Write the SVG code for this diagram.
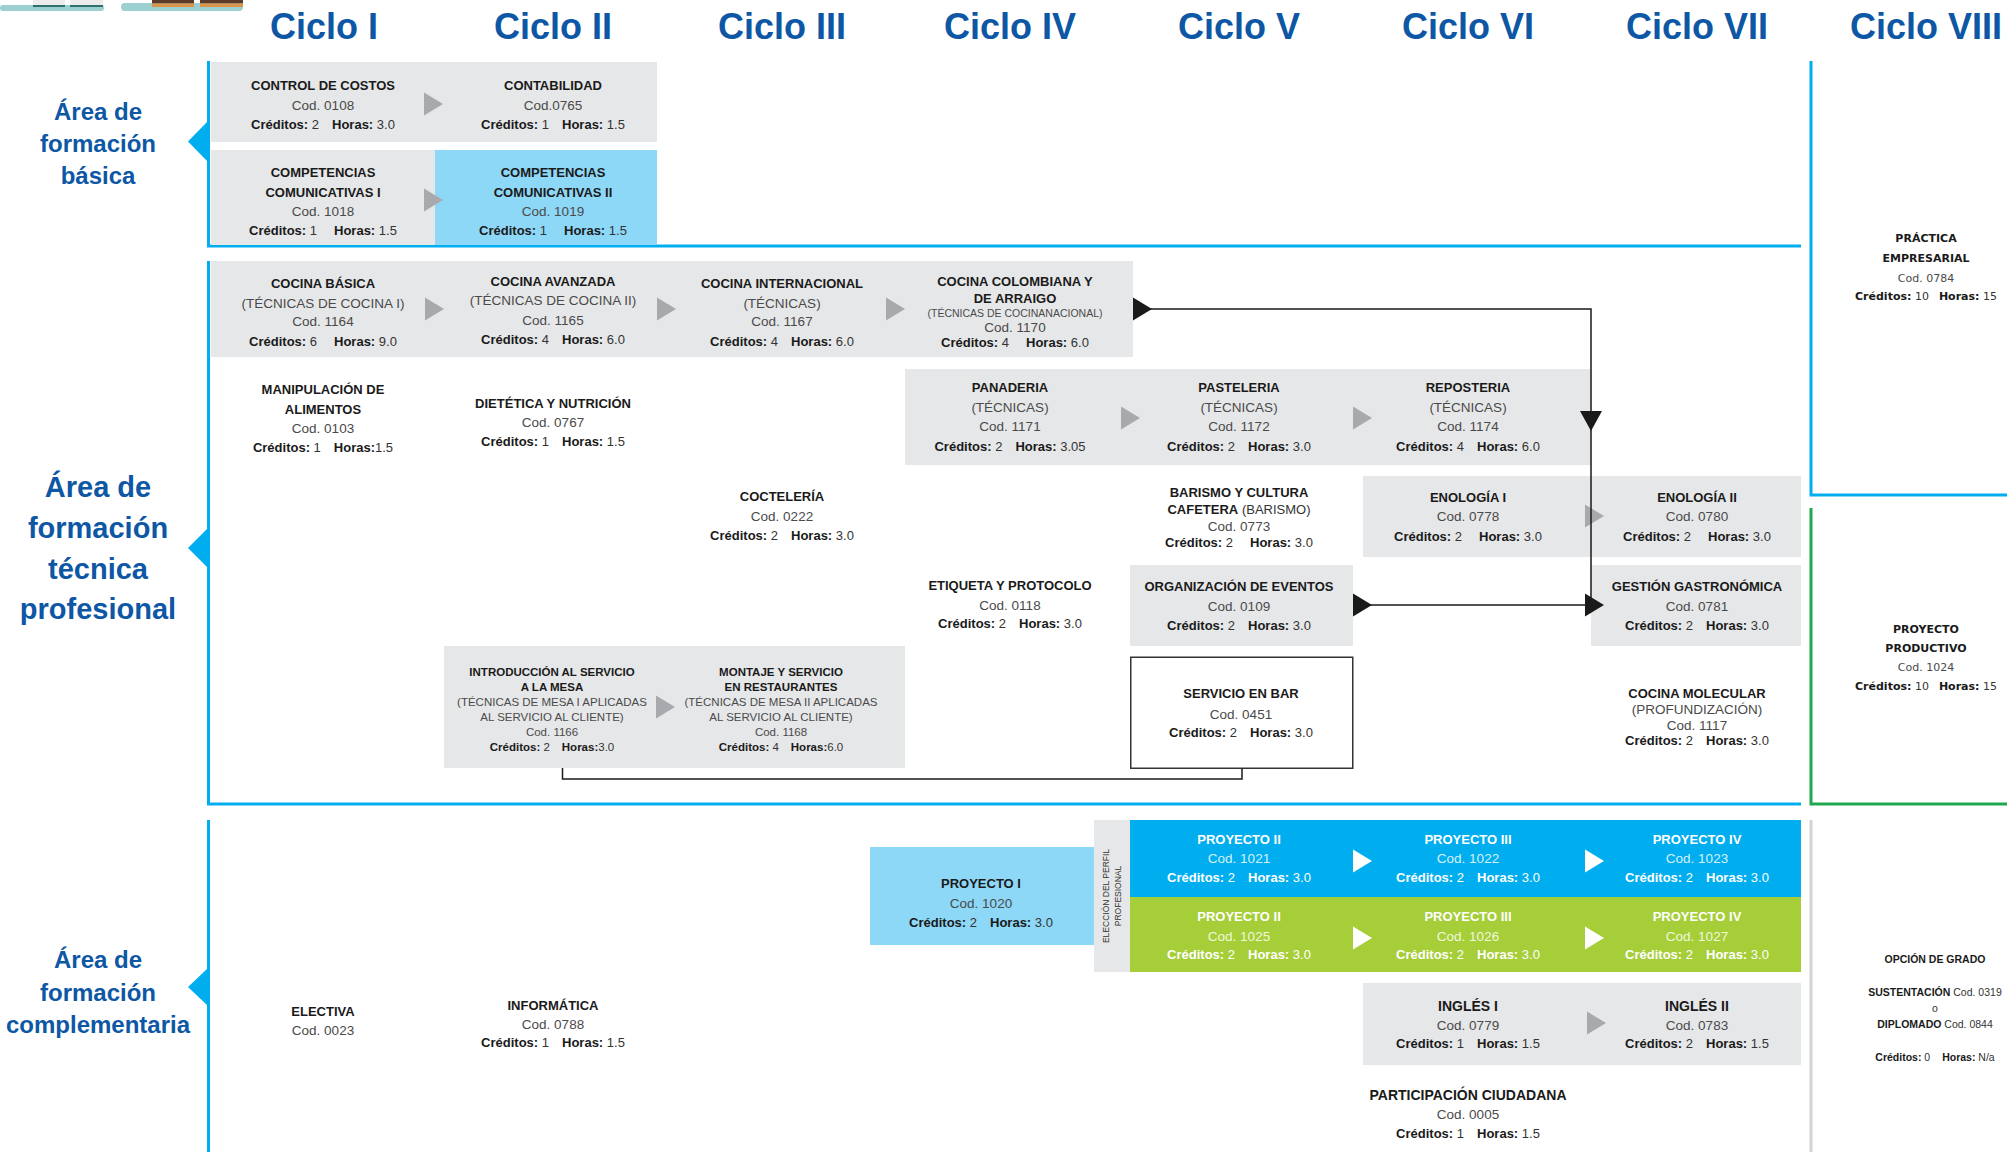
<svg xmlns="http://www.w3.org/2000/svg" width="2007" height="1152" viewBox="0 0 2007 1152">
<style>
text{font-family:"Liberation Sans",Arial,sans-serif;text-anchor:middle}
.t{font-size:13px;font-weight:bold;fill:#1a1a1a}
.c{font-size:13.5px;fill:#4a4a4a}
.k{font-size:13px;fill:#333}
.b{font-weight:bold;fill:#1a1a1a}
.s{font-size:10.5px}
.m{font-size:11.5px}
.w .t,.w .k,.w .b{fill:#fff}
.w .c{fill:#d4f1fd}
.w.g .c{fill:#f0f8dc}
.hdr{font-size:36px;font-weight:bold;fill:#0d57a5}
.area{font-size:24px;font-weight:bold;fill:#0d57a5}
.area.big{font-size:29px}
.v{font-family:"DejaVu Sans",Verdana,sans-serif;font-size:11px}
.grey{fill:#e6e7e8}
.lb{fill:#8dd7f7}
.cy{fill:#00aeef}
.gr{fill:#a6ce39}
.ga{fill:#a7a9ac}
.wa{fill:#fff}
.ba{fill:#1a1a1a}
.ln{fill:none;stroke:#00aeef;stroke-width:3}
.cl{fill:none;stroke:#1a1a1a;stroke-width:1.5}
</style>
<defs>
<path id="ar" d="M0,-11.5 L19,0 L0,11.5Z"/>
</defs>

<g id="decor">
<rect x="0" y="5" width="104" height="6" rx="3" fill="#9ccfcf"/>
<rect x="33" y="0" width="32" height="5" fill="#ececec"/>
<rect x="33" y="5" width="32" height="2" fill="#2e6f70"/>
<rect x="70" y="0" width="33" height="5" fill="#ececec"/>
<rect x="70" y="5" width="33" height="2" fill="#2e6f70"/>
<rect x="121" y="3" width="122" height="8" rx="4" fill="#9ccfcf"/>
<rect x="152" y="0" width="42" height="3.5" fill="#5a3a28"/>
<rect x="152" y="3.5" width="42" height="3.5" fill="#d9934a"/>
<rect x="200" y="0" width="43" height="3.5" fill="#5a3a28"/>
<rect x="200" y="3.5" width="43" height="3.5" fill="#d9934a"/>
</g>

<g id="headers">
<text class="hdr" x="324" y="39">Ciclo I</text>
<text class="hdr" x="553" y="39">Ciclo II</text>
<text class="hdr" x="782" y="39">Ciclo III</text>
<text class="hdr" x="1010" y="39">Ciclo IV</text>
<text class="hdr" x="1239" y="39">Ciclo V</text>
<text class="hdr" x="1468" y="39">Ciclo VI</text>
<text class="hdr" x="1697" y="39">Ciclo VII</text>
<text class="hdr" x="1926" y="39">Ciclo VIII</text>
</g>

<g id="areas">
<path class="ln" d="M208.5,61 V246 H1801"/>
<polygon class="cy" points="188,141.5 208,121 208,162"/>
<text class="area" x="98" y="120">Área de</text>
<text class="area" x="98" y="152">formación</text>
<text class="area" x="98" y="184">básica</text>

<path class="ln" d="M208.5,261 V804 H1801"/>
<polygon class="cy" points="188,548 208,528 208,568"/>
<text class="area big" x="98" y="497">Área de</text>
<text class="area big" x="98" y="538">formación</text>
<text class="area big" x="98" y="579">técnica</text>
<text class="area big" x="98" y="619">profesional</text>

<path class="ln" d="M208.5,820 V1152"/>
<polygon class="cy" points="188,987 208,968 208,1006"/>
<text class="area" x="98" y="968">Área de</text>
<text class="area" x="98" y="1001">formación</text>
<text class="area" x="98" y="1033">complementaria</text>

<path class="ln" d="M1811,61 V495 H2007"/>
<path fill="none" stroke="#1fa84f" stroke-width="3" d="M1811,508 V804 H2007"/>
<path fill="none" stroke="#d3d3d3" stroke-width="3" d="M1811,820 V1152"/>
</g>

<g id="bands">
<rect class="grey" x="211" y="62" width="446" height="80"/>
<rect class="grey" x="211" y="150" width="224" height="95"/>
<rect class="lb" x="435" y="150" width="222" height="95"/>
<rect class="grey" x="211" y="261" width="922" height="96"/>
<rect class="grey" x="905" y="369" width="686" height="96"/>
<rect class="grey" x="1363" y="476" width="438" height="81"/>
<rect class="grey" x="1130" y="565" width="223" height="81"/>
<rect class="grey" x="1591" y="565" width="210" height="81"/>
<rect class="grey" x="444" y="646" width="461" height="122"/>
<rect x="1130.75" y="657.25" width="222" height="111" fill="#fff" stroke="#333" stroke-width="1.5"/>
<rect class="lb" x="870" y="847" width="224" height="98"/>
<rect class="grey" x="1094" y="820" width="36" height="152"/>
<rect class="cy" x="1130" y="820" width="671" height="77"/>
<rect class="gr" x="1130" y="897" width="671" height="75"/>
<rect class="grey" x="1363" y="983" width="438" height="82"/>
</g>

<g id="connectors">
<use href="#ar" class="ga" x="424" y="104"/>
<use href="#ar" class="ga" x="424" y="200"/>
<use href="#ar" class="ga" x="425" y="309"/>
<use href="#ar" class="ga" x="657" y="309"/>
<use href="#ar" class="ga" x="886" y="309"/>
<use href="#ar" class="ga" x="1121" y="418"/>
<use href="#ar" class="ga" x="1353" y="418"/>
<use href="#ar" class="ga" x="1585" y="516"/>
<use href="#ar" class="ga" x="656" y="707"/>
<use href="#ar" class="ga" x="1587" y="1023"/>
<use href="#ar" class="wa" x="1353" y="861"/>
<use href="#ar" class="wa" x="1585" y="861"/>
<use href="#ar" class="wa" x="1353" y="938"/>
<use href="#ar" class="wa" x="1585" y="938"/>
<path class="cl" d="M1150,309 H1591 V605"/>
<path class="cl" d="M1370,605 H1586"/>
<use href="#ar" class="ba" x="1133" y="309"/>
<use href="#ar" class="ba" x="1353" y="605"/>
<use href="#ar" class="ba" x="1585" y="605"/>
<polygon class="ba" points="1580,411 1602,411 1591,431"/>
<path class="cl" d="M562.5,768 V779 H1242 V768.5"/>
</g>

<g id="control-costos">
<text class="t" x="323" y="90">CONTROL DE COSTOS</text>
<text class="c" x="323" y="109.5">Cod. 0108</text>
<text class="k" x="323" y="128.5"><tspan class="b">Créditos:</tspan> 2<tspan class="b" dx="13">Horas:</tspan> 3.0</text>
</g>
<g id="contabilidad">
<text class="t" x="553" y="90">CONTABILIDAD</text>
<text class="c" x="553" y="109.5">Cod.0765</text>
<text class="k" x="553" y="128.5"><tspan class="b">Créditos:</tspan> 1<tspan class="b" dx="13">Horas:</tspan> 1.5</text>
</g>
<g id="competencias-1">
<text class="t" x="323" y="176.5">COMPETENCIAS</text>
<text class="t" x="323" y="196.5">COMUNICATIVAS I</text>
<text class="c" x="323" y="215.5">Cod. 1018</text>
<text class="k" x="323" y="235"><tspan class="b">Créditos:</tspan> 1<tspan class="b" dx="17">Horas:</tspan> 1.5</text>
</g>
<g id="competencias-2">
<text class="t" x="553" y="176.5">COMPETENCIAS</text>
<text class="t" x="553" y="196.5">COMUNICATIVAS II</text>
<text class="c" x="553" y="215.5">Cod. 1019</text>
<text class="k" x="553" y="235"><tspan class="b">Créditos:</tspan> 1<tspan class="b" dx="17">Horas:</tspan> 1.5</text>
</g>

<g id="cocina-basica">
<text class="t" x="323" y="288">COCINA BÁSICA</text>
<text class="c" x="323" y="308">(TÉCNICAS DE  COCINA I)</text>
<text class="c" x="323" y="326">Cod. 1164</text>
<text class="k" x="323" y="346"><tspan class="b">Créditos:</tspan> 6<tspan class="b" dx="17">Horas:</tspan> 9.0</text>
</g>
<g id="cocina-avanzada">
<text class="t" x="553" y="286">COCINA AVANZADA</text>
<text class="c" x="553" y="304.5">(TÉCNICAS DE  COCINA II)</text>
<text class="c" x="553" y="324.5">Cod. 1165</text>
<text class="k" x="553" y="344"><tspan class="b">Créditos:</tspan> 4<tspan class="b" dx="13">Horas:</tspan> 6.0</text>
</g>
<g id="cocina-internacional">
<text class="t" x="782" y="288">COCINA INTERNACIONAL</text>
<text class="c" x="782" y="308">(TÉCNICAS)</text>
<text class="c" x="782" y="326">Cod. 1167</text>
<text class="k" x="782" y="346"><tspan class="b">Créditos:</tspan> 4<tspan class="b" dx="13">Horas:</tspan> 6.0</text>
</g>
<g id="cocina-colombiana">
<text class="t" x="1015" y="286">COCINA COLOMBIANA Y</text>
<text class="t" x="1015" y="302.5">DE ARRAIGO</text>
<text class="c s" x="1015" y="317">(TÉCNICAS DE COCINANACIONAL)</text>
<text class="c" x="1015" y="331.5">Cod. 1170</text>
<text class="k" x="1015" y="347"><tspan class="b">Créditos:</tspan> 4<tspan class="b" dx="17">Horas:</tspan> 6.0</text>
</g>

<g id="manipulacion">
<text class="t" x="323" y="393.5">MANIPULACIÓN DE</text>
<text class="t" x="323" y="413.5">ALIMENTOS</text>
<text class="c" x="323" y="432.5">Cod. 0103</text>
<text class="k" x="323" y="451.5"><tspan class="b">Créditos:</tspan> 1<tspan class="b" dx="13">Horas:</tspan>1.5</text>
</g>
<g id="dietetica">
<text class="t" x="553" y="407.5">DIETÉTICA Y  NUTRICIÓN</text>
<text class="c" x="553" y="427">Cod. 0767</text>
<text class="k" x="553" y="446"><tspan class="b">Créditos:</tspan> 1<tspan class="b" dx="13">Horas:</tspan> 1.5</text>
</g>
<g id="panaderia">
<text class="t" x="1010" y="392">PANADERIA</text>
<text class="c" x="1010" y="412">(TÉCNICAS)</text>
<text class="c" x="1010" y="431">Cod. 1171</text>
<text class="k" x="1010" y="451"><tspan class="b">Créditos:</tspan> 2<tspan class="b" dx="13">Horas:</tspan> 3.05</text>
</g>
<g id="pasteleria">
<text class="t" x="1239" y="392">PASTELERIA</text>
<text class="c" x="1239" y="412">(TÉCNICAS)</text>
<text class="c" x="1239" y="431">Cod. 1172</text>
<text class="k" x="1239" y="451"><tspan class="b">Créditos:</tspan> 2<tspan class="b" dx="13">Horas:</tspan> 3.0</text>
</g>
<g id="reposteria">
<text class="t" x="1468" y="392">REPOSTERIA</text>
<text class="c" x="1468" y="412">(TÉCNICAS)</text>
<text class="c" x="1468" y="431">Cod. 1174</text>
<text class="k" x="1468" y="451"><tspan class="b">Créditos:</tspan> 4<tspan class="b" dx="13">Horas:</tspan> 6.0</text>
</g>

<g id="cocteleria">
<text class="t" x="782" y="501">COCTELERÍA</text>
<text class="c" x="782" y="521">Cod. 0222</text>
<text class="k" x="782" y="540"><tspan class="b">Créditos:</tspan> 2<tspan class="b" dx="13">Horas:</tspan> 3.0</text>
</g>
<g id="barismo">
<text class="t" x="1239" y="496.5">BARISMO Y CULTURA</text>
<text class="k" x="1239" y="513.5"><tspan class="b">CAFETERA</tspan> (BARISMO)</text>
<text class="c" x="1239" y="530.5">Cod. 0773</text>
<text class="k" x="1239" y="546.5"><tspan class="b">Créditos:</tspan> 2<tspan class="b" dx="17">Horas:</tspan> 3.0</text>
</g>
<g id="enologia-1">
<text class="t" x="1468" y="501.5">ENOLOGÍA I</text>
<text class="c" x="1468" y="521">Cod. 0778</text>
<text class="k" x="1468" y="540.5"><tspan class="b">Créditos:</tspan> 2<tspan class="b" dx="17">Horas:</tspan> 3.0</text>
</g>
<g id="enologia-2">
<text class="t" x="1697" y="501.5">ENOLOGÍA II</text>
<text class="c" x="1697" y="521">Cod. 0780</text>
<text class="k" x="1697" y="540.5"><tspan class="b">Créditos:</tspan> 2<tspan class="b" dx="17">Horas:</tspan> 3.0</text>
</g>

<g id="etiqueta">
<text class="t" x="1010" y="589.5">ETIQUETA Y PROTOCOLO</text>
<text class="c" x="1010" y="609.5">Cod. 0118</text>
<text class="k" x="1010" y="628"><tspan class="b">Créditos:</tspan> 2<tspan class="b" dx="13">Horas:</tspan> 3.0</text>
</g>
<g id="organizacion-eventos">
<text class="t" x="1239" y="591">ORGANIZACIÓN DE  EVENTOS</text>
<text class="c" x="1239" y="611">Cod. 0109</text>
<text class="k" x="1239" y="629.5"><tspan class="b">Créditos:</tspan> 2<tspan class="b" dx="13">Horas:</tspan> 3.0</text>
</g>
<g id="gestion-gastronomica">
<text class="t" x="1697" y="591">GESTIÓN  GASTRONÓMICA</text>
<text class="c" x="1697" y="611">Cod. 0781</text>
<text class="k" x="1697" y="629.5"><tspan class="b">Créditos:</tspan> 2<tspan class="b" dx="13">Horas:</tspan> 3.0</text>
</g>

<g id="introduccion-servicio">
<text class="t m" x="552" y="676">INTRODUCCIÓN AL SERVICIO</text>
<text class="t m" x="552" y="691">A LA MESA</text>
<text class="c m" x="552" y="706">(TÉCNICAS DE MESA I APLICADAS</text>
<text class="c m" x="552" y="721">AL SERVICIO AL CLIENTE)</text>
<text class="c m" x="552" y="735.5">Cod. 1166</text>
<text class="k m" x="552" y="751"><tspan class="b">Créditos:</tspan> 2<tspan class="b" dx="12">Horas:</tspan>3.0</text>
</g>
<g id="montaje-servicio">
<text class="t m" x="781" y="676">MONTAJE Y SERVICIO</text>
<text class="t m" x="781" y="691">EN RESTAURANTES</text>
<text class="c m" x="781" y="706">(TÉCNICAS DE MESA II APLICADAS</text>
<text class="c m" x="781" y="721">AL SERVICIO AL CLIENTE)</text>
<text class="c m" x="781" y="735.5">Cod. 1168</text>
<text class="k m" x="781" y="751"><tspan class="b">Créditos:</tspan> 4<tspan class="b" dx="12">Horas:</tspan>6.0</text>
</g>
<g id="servicio-bar">
<text class="t" x="1241" y="697.5">SERVICIO EN BAR</text>
<text class="c" x="1241" y="718.5">Cod. 0451</text>
<text class="k" x="1241" y="737"><tspan class="b">Créditos:</tspan> 2<tspan class="b" dx="13">Horas:</tspan> 3.0</text>
</g>
<g id="cocina-molecular">
<text class="t" x="1697" y="697.5">COCINA MOLECULAR</text>
<text class="c" x="1697" y="713.5">(PROFUNDIZACIÓN)</text>
<text class="c" x="1697" y="729.5">Cod. 1117</text>
<text class="k" x="1697" y="744.5"><tspan class="b">Créditos:</tspan> 2<tspan class="b" dx="13">Horas:</tspan> 3.0</text>
</g>

<g id="practica-empresarial">
<text class="t v" x="1926" y="242">PRÁCTICA</text>
<text class="t v" x="1926" y="262">EMPRESARIAL</text>
<text class="c v" x="1926" y="282">Cod. 0784</text>
<text class="k v" x="1926" y="300"><tspan class="b">Créditos:</tspan> 10<tspan class="b" dx="10">Horas:</tspan> 15</text>
</g>
<g id="proyecto-productivo">
<text class="t v" x="1926" y="632.5">PROYECTO</text>
<text class="t v" x="1926" y="651.5">PRODUCTIVO</text>
<text class="c v" x="1926" y="671">Cod. 1024</text>
<text class="k v" x="1926" y="690"><tspan class="b">Créditos:</tspan> 10<tspan class="b" dx="10">Horas:</tspan> 15</text>
</g>

<g id="proyecto-1">
<text class="t" x="981" y="887.5">PROYECTO I</text>
<text class="c" x="981" y="907.5">Cod. 1020</text>
<text class="k" x="981" y="926.5"><tspan class="b">Créditos:</tspan> 2<tspan class="b" dx="13">Horas:</tspan> 3.0</text>
</g>
<g id="eleccion-perfil">
<text transform="translate(1109,896) rotate(-90)" style="font-size:8.5px;fill:#333">ELECCIÓN DEL PERFIL</text>
<text transform="translate(1121,896) rotate(-90)" style="font-size:8.5px;fill:#333">PROFESIONAL</text>
</g>
<g id="proyecto-2a" class="w">
<text class="t" x="1239" y="843.5">PROYECTO II</text>
<text class="c" x="1239" y="862.5">Cod. 1021</text>
<text class="k" x="1239" y="881.5"><tspan class="b">Créditos:</tspan> 2<tspan class="b" dx="13">Horas:</tspan> 3.0</text>
</g>
<g id="proyecto-3a" class="w">
<text class="t" x="1468" y="843.5">PROYECTO III</text>
<text class="c" x="1468" y="862.5">Cod. 1022</text>
<text class="k" x="1468" y="881.5"><tspan class="b">Créditos:</tspan> 2<tspan class="b" dx="13">Horas:</tspan> 3.0</text>
</g>
<g id="proyecto-4a" class="w">
<text class="t" x="1697" y="843.5">PROYECTO IV</text>
<text class="c" x="1697" y="862.5">Cod. 1023</text>
<text class="k" x="1697" y="881.5"><tspan class="b">Créditos:</tspan> 2<tspan class="b" dx="13">Horas:</tspan> 3.0</text>
</g>
<g id="proyecto-2b" class="w g">
<text class="t" x="1239" y="920.5">PROYECTO II</text>
<text class="c" x="1239" y="940.5">Cod. 1025</text>
<text class="k" x="1239" y="958.5"><tspan class="b">Créditos:</tspan> 2<tspan class="b" dx="13">Horas:</tspan> 3.0</text>
</g>
<g id="proyecto-3b" class="w g">
<text class="t" x="1468" y="920.5">PROYECTO III</text>
<text class="c" x="1468" y="940.5">Cod. 1026</text>
<text class="k" x="1468" y="958.5"><tspan class="b">Créditos:</tspan> 2<tspan class="b" dx="13">Horas:</tspan> 3.0</text>
</g>
<g id="proyecto-4b" class="w g">
<text class="t" x="1697" y="920.5">PROYECTO IV</text>
<text class="c" x="1697" y="940.5">Cod. 1027</text>
<text class="k" x="1697" y="958.5"><tspan class="b">Créditos:</tspan> 2<tspan class="b" dx="13">Horas:</tspan> 3.0</text>
</g>

<g id="ingles-1">
<text class="t" x="1468" y="1010.5" style="font-size:14px">INGLÉS I</text>
<text class="c" x="1468" y="1029.5">Cod. 0779</text>
<text class="k" x="1468" y="1047.5"><tspan class="b">Créditos:</tspan> 1<tspan class="b" dx="13">Horas:</tspan> 1.5</text>
</g>
<g id="ingles-2">
<text class="t" x="1697" y="1010.5" style="font-size:14px">INGLÉS  II</text>
<text class="c" x="1697" y="1029.5">Cod. 0783</text>
<text class="k" x="1697" y="1047.5"><tspan class="b">Créditos:</tspan> 2<tspan class="b" dx="13">Horas:</tspan> 1.5</text>
</g>
<g id="participacion-ciudadana">
<text class="t" x="1468" y="1099.5" style="font-size:14px">PARTICIPACIÓN CIUDADANA</text>
<text class="c" x="1468" y="1118.5">Cod. 0005</text>
<text class="k" x="1468" y="1137.5"><tspan class="b">Créditos:</tspan> 1<tspan class="b" dx="13">Horas:</tspan> 1.5</text>
</g>
<g id="electiva">
<text class="t" x="323" y="1015.5">ELECTIVA</text>
<text class="c" x="323" y="1034.5">Cod. 0023</text>
</g>
<g id="informatica">
<text class="t" x="553" y="1009.5">INFORMÁTICA</text>
<text class="c" x="553" y="1028.5">Cod. 0788</text>
<text class="k" x="553" y="1047"><tspan class="b">Créditos:</tspan> 1<tspan class="b" dx="13">Horas:</tspan> 1.5</text>
</g>
<g id="opcion-grado">
<text class="t" x="1935" y="962.5" style="font-size:10.5px">OPCIÓN DE GRADO</text>
<text class="k" x="1935" y="996" style="font-size:10.5px"><tspan class="b">SUSTENTACIÓN</tspan> Cod. 0319</text>
<text class="k" x="1935" y="1012" style="font-size:10.5px">o</text>
<text class="k" x="1935" y="1028" style="font-size:10.5px"><tspan class="b">DIPLOMADO</tspan> Cod. 0844</text>
<text class="k" x="1935" y="1061" style="font-size:10.5px"><tspan class="b">Créditos:</tspan> 0<tspan class="b" dx="12">Horas:</tspan> N/a</text>
</g>
</svg>
